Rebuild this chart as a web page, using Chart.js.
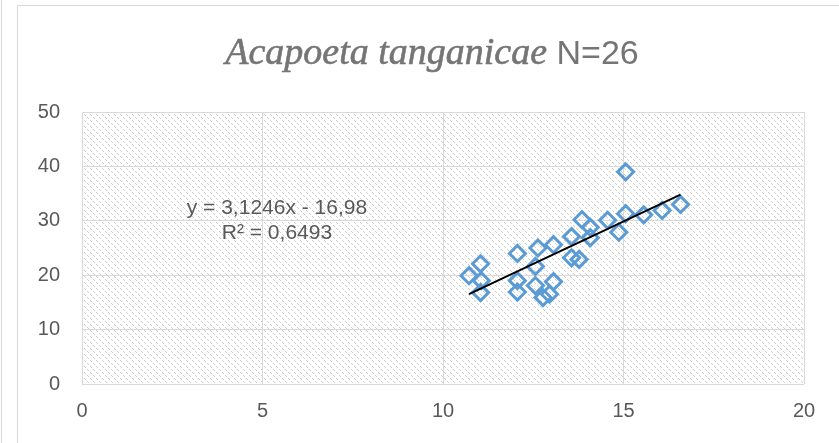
<!DOCTYPE html>
<html>
<head>
<meta charset="utf-8">
<script src="https://cdn.jsdelivr.net/npm/chart.js@4.4.1/dist/chart.umd.min.js"></script>
<style>
html,body{margin:0;padding:0;background:#fff;}
#wrap{position:relative;width:839px;height:443px;}
canvas{display:block;}
</style>
</head>
<body>
<div id="wrap"><canvas id="c" width="839" height="443"></canvas></div>
<script>
// ---- data ----
const lengthX = [10.72, 11.04, 11.06, 11.04, 12.06, 12.06, 12.06, 12.63, 12.56, 12.56, 12.77, 12.95, 13.06, 13.06, 13.56, 13.56, 13.77, 13.85, 14.08, 14.08, 14.56, 14.87, 15.06, 15.06, 15.56, 16.07, 16.58];
const weightY = [19.9, 22.1, 19.0, 16.8, 24.0, 19.0, 16.9, 25.0, 21.6, 18.1, 15.9, 16.5, 18.8, 25.6, 27.1, 23.2, 22.9, 30.2, 28.8, 26.9, 30.1, 27.9, 39.0, 31.3, 31.1, 31.9, 33.0];
const slope = 3.1246;
const intercept = -16.98;
const eqLabel = "y = 3,1246x - 16,98";
const r2Label = "R² = 0,6493";
const titleItalic = "Acapoeta tanganicae";
const titleRest = " N=26";
const xTicks = [0, 5, 10, 15, 20];
const yTicks = [0, 10, 20, 30, 40, 50];

const points = lengthX.map((x, i) => ({x: x, y: weightY[i]}));
const xMin = Math.min(...lengthX), xMax = Math.max(...lengthX);
const trend = [xMin, xMax].map(x => ({x: x, y: slope * x + intercept}));

// hatch pattern (downward diagonal dashes)
function makePattern(ctx) {
  const pc = document.createElement('canvas');
  pc.width = 6; pc.height = 6;
  const p = pc.getContext('2d');
  p.fillStyle = '#fff'; p.fillRect(0, 0, 6, 6);
  p.fillStyle = '#cdcdcd';
  for (let i = 0; i < 6; i++) {
    if (i % 3 !== 2) p.fillRect(i, i, 1, 1);
  }
  return ctx.createPattern(pc, 'repeat');
}

const decor = {
  id: 'decor',
  beforeDraw(chart) {
    const ctx = chart.ctx, a = chart.chartArea;
    ctx.save();
    ctx.fillStyle = '#fff';
    ctx.fillRect(0, 0, chart.width, chart.height);
    ctx.strokeStyle = '#d9d9d9';
    ctx.lineWidth = 1;
    ctx.beginPath();
    ctx.moveTo(1.5, 0); ctx.lineTo(1.5, chart.height);
    ctx.moveTo(17.5, chart.height); ctx.lineTo(17.5, 5.5); ctx.lineTo(chart.width, 5.5);
    ctx.stroke();
    ctx.fillStyle = makePattern(ctx);
    ctx.fillRect(a.left, a.top, a.right - a.left, a.bottom - a.top);
    ctx.restore();
  },
  afterDraw(chart) {
    const ctx = chart.ctx;
    ctx.save();
    // title
    const fI = 'italic 38px "Liberation Serif", "Times New Roman", serif';
    const fR = '34px "Liberation Sans", Arial, sans-serif';
    ctx.font = fI; const w1 = ctx.measureText(titleItalic).width;
    ctx.font = fR; const w2 = ctx.measureText(titleRest).width;
    const cx = 432, base = 64;
    const x0 = cx - (w1 + w2) / 2;
    ctx.fillStyle = '#757575';
    ctx.textBaseline = 'alphabetic';
    ctx.textAlign = 'left';
    ctx.font = fI;
    ctx.strokeStyle = '#757575'; ctx.lineWidth = 0.6;
    ctx.fillText(titleItalic, x0, base);
    ctx.strokeText(titleItalic, x0, base);
    ctx.font = fR; ctx.fillText(titleRest, x0 + w1, base);
    // equation label
    const xs = chart.scales.x, ys = chart.scales.y;
    const ex = xs.getPixelForValue(5.4), ey = ys.getPixelForValue(31.2);
    ctx.font = '21px "Liberation Sans", Arial, sans-serif';
    ctx.fillStyle = '#595959';
    ctx.textAlign = 'center';
    ctx.fillText(eqLabel, ex, ey);
    ctx.fillText(r2Label, ex, ey + 25);
    ctx.restore();
  }
};

new Chart(document.getElementById('c'), {
  type: 'scatter',
  data: {
    datasets: [
      {
        type: 'line',
        data: trend,
        borderColor: '#000',
        borderWidth: 2,
        pointRadius: 0,
        fill: false,
        order: 0
      },
      {
        data: points,
        pointStyle: 'rectRot',
        pointRadius: 8,
        pointBorderWidth: 3,
        borderColor: '#5b9bd5',
        backgroundColor: 'rgba(0,0,0,0)',
        order: 1
      }
    ]
  },
  options: {
    responsive: false,
    animation: false,
    events: [],
    layout: {padding: {left: 0, top: 112, right: 35, bottom: 0}},
    plugins: {legend: {display: false}, title: {display: false}, tooltip: {enabled: false}},
    scales: {
      x: {
        type: 'linear', min: 0, max: 20,
        afterBuildTicks: s => { s.ticks = xTicks.map(v => ({value: v})); },
        afterFit: s => { s.height = 59; },
        grid: {color: '#d9d9d9', lineWidth: 1, drawTicks: false},
        border: {display: false},
        ticks: {padding: 15, color: '#595959', font: {family: '"Liberation Sans", Arial, sans-serif', size: 20}}
      },
      y: {
        type: 'linear', min: 0, max: 50,
        afterBuildTicks: s => { s.ticks = yTicks.map(v => ({value: v})); },
        afterFit: s => { s.width = 82; },
        grid: {color: '#d9d9d9', lineWidth: 1, drawTicks: false},
        border: {display: false},
        ticks: {padding: 22, color: '#595959', font: {family: '"Liberation Sans", Arial, sans-serif', size: 20}}
      }
    }
  },
  plugins: [decor]
});
</script>
</body>
</html>
